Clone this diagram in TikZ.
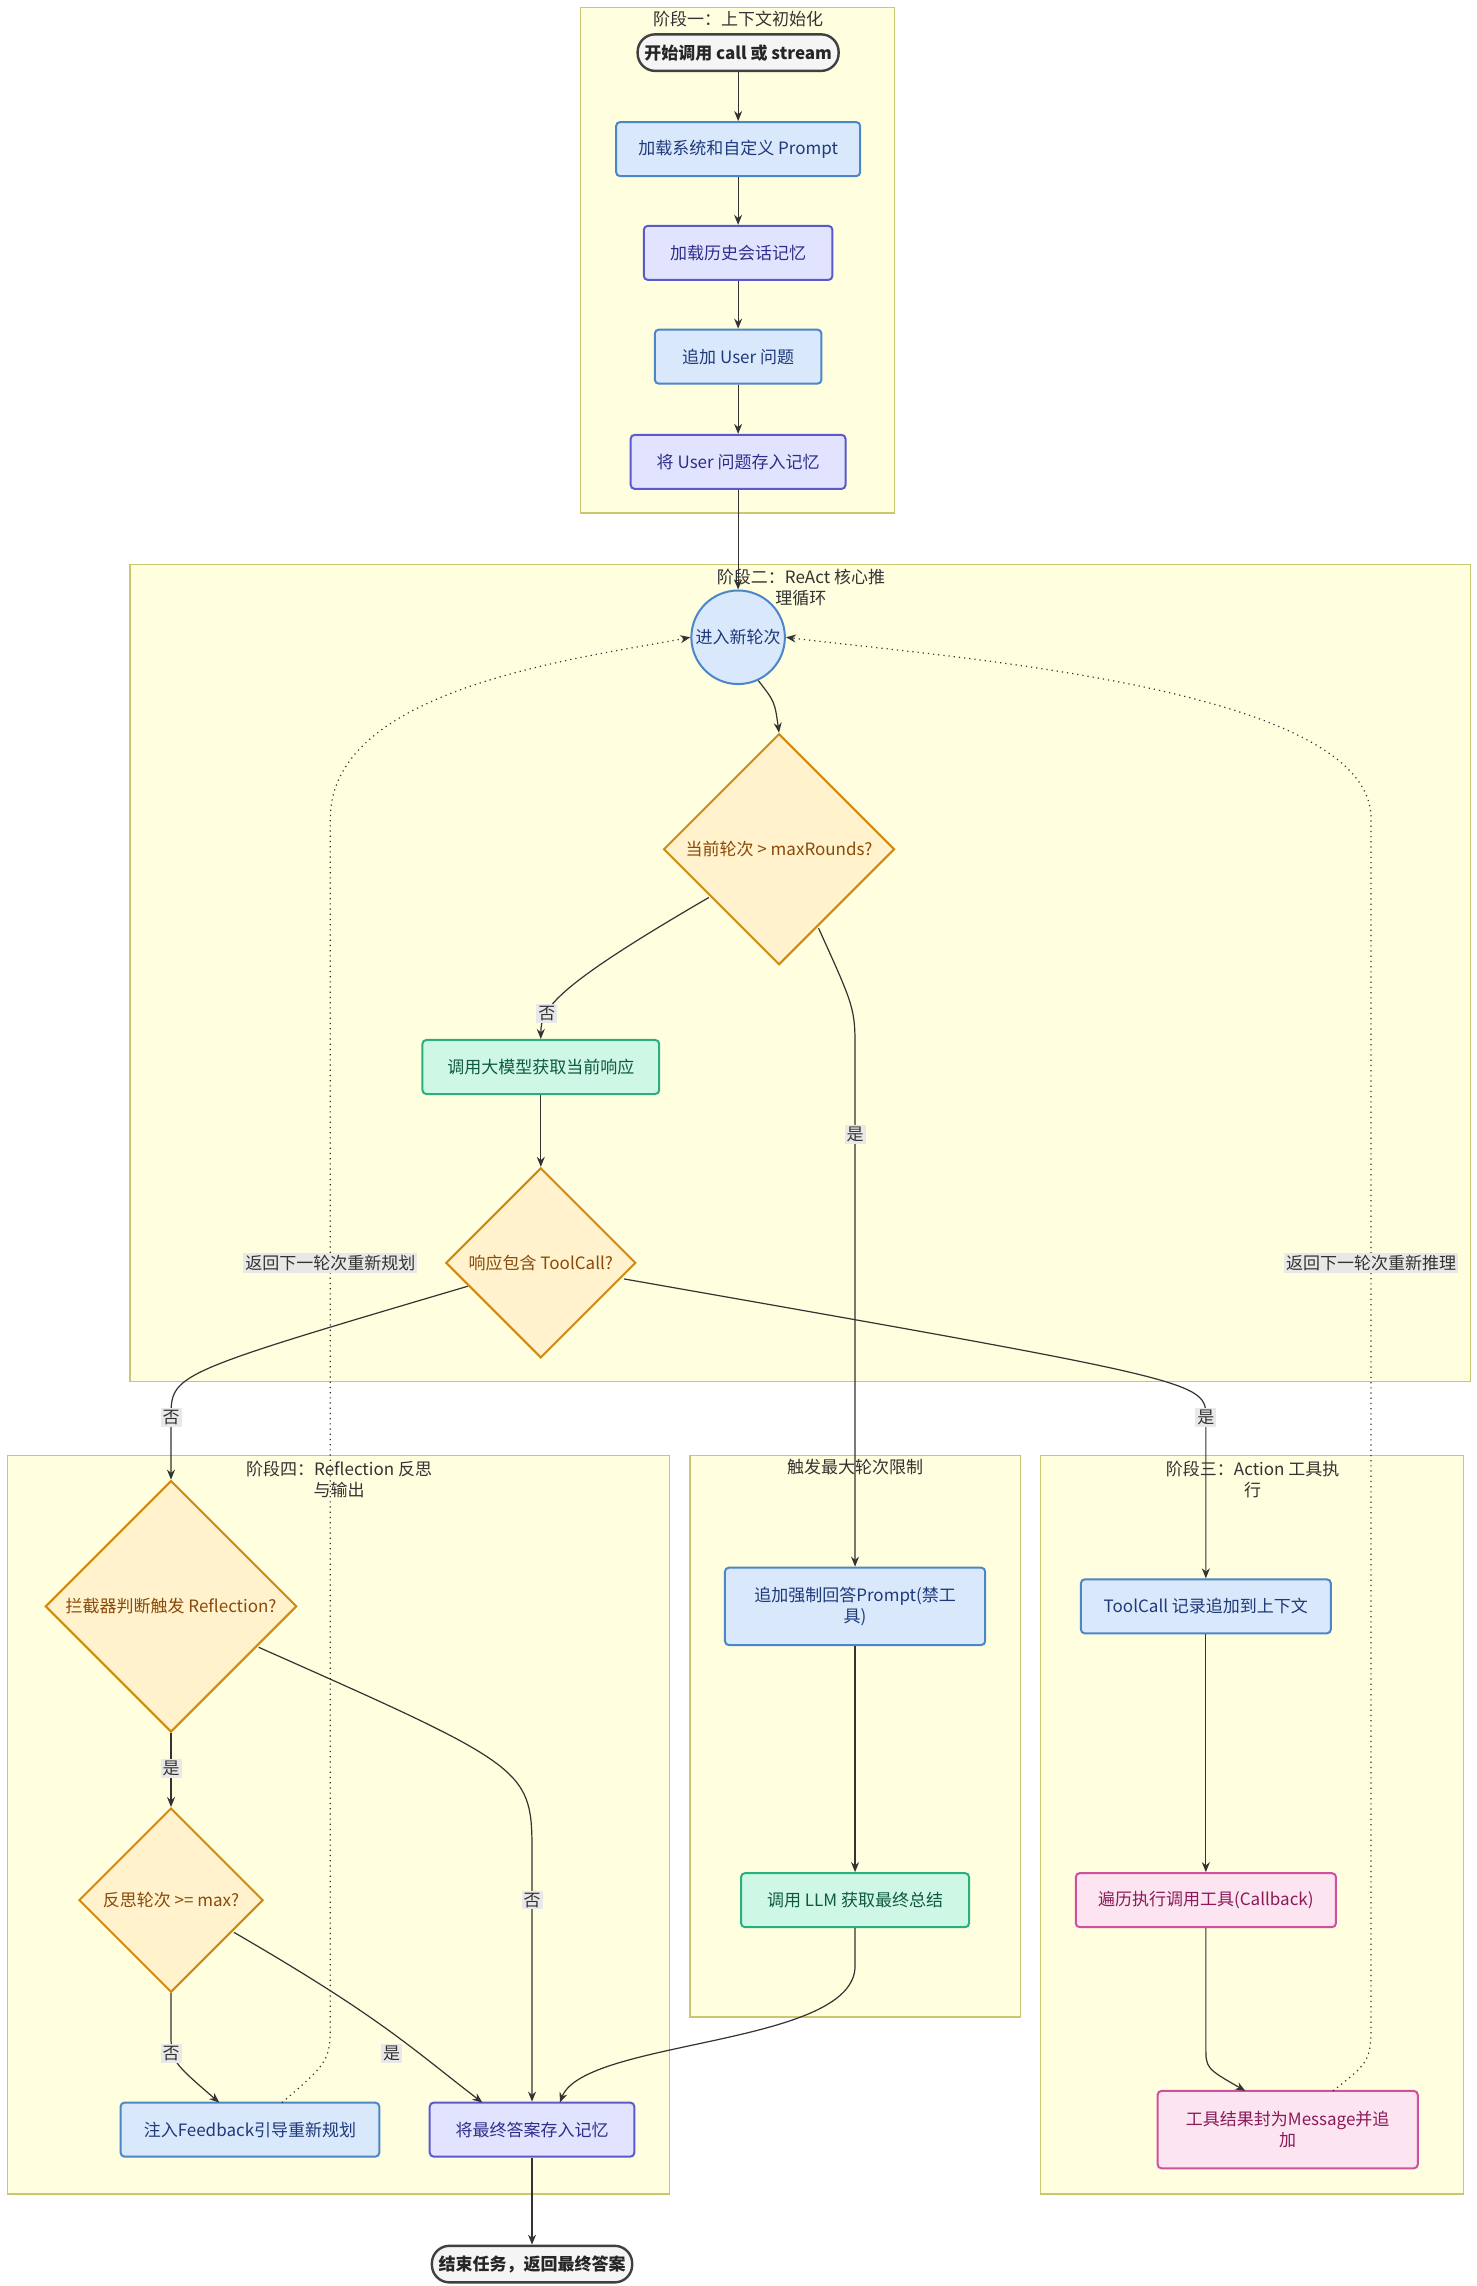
\documentclass[tikz,border=0pt]{standalone}
\usepackage{fontspec}
\setmainfont{Noto Sans CJK SC}
\usetikzlibrary{shapes.geometric,arrows.meta}
\definecolor{stagebg}{HTML}{FFFEDE}
\definecolor{stageln}{HTML}{C8C86E}
\definecolor{bluef}{HTML}{DAE8FC}
\definecolor{bluel}{HTML}{4A86C8}
\definecolor{bluet}{HTML}{1F3A7A}
\definecolor{lavf}{HTML}{E2E4FF}
\definecolor{lavl}{HTML}{5A5ACD}
\definecolor{lavt}{HTML}{2E2E8A}
\definecolor{grnf}{HTML}{CFF7E6}
\definecolor{grnl}{HTML}{2AB080}
\definecolor{grnt}{HTML}{0E5A40}
\definecolor{pinkf}{HTML}{FCE4F0}
\definecolor{pinkl}{HTML}{D050A0}
\definecolor{pinkt}{HTML}{8A1A5A}
\definecolor{orgf}{HTML}{FFF2CC}
\definecolor{orgl}{HTML}{D08A10}
\definecolor{orgt}{HTML}{8A4A0A}
\definecolor{ln}{HTML}{333333}
\def\u{0.7308pt}
\tikzset{
  every node/.style={font=\fontsize{8.5}{10.5}\selectfont},
  stage/.style={draw=stageln,fill=stagebg,line width=0.6pt},
  ttl/.style={text=black!80,align=center},
  box/.style 2 args={rounded corners=2pt,line width=1pt,minimum width={#1*\u},minimum height={#2*\u},align=center,inner sep=1pt},
  bl/.style={box={#1}{37},draw=bluel,fill=bluef,text=bluet},
  lv/.style={box={#1}{37},draw=lavl,fill=lavf,text=lavt},
  gr/.style={box={#1}{37},draw=grnl,fill=grnf,text=grnt},
  pk/.style={box={#1}{37},draw=pinkl,fill=pinkf,text=pinkt},
  dia/.style={diamond,draw=orgl,fill=orgf,text=orgt,line width=1pt,minimum width={#1*\u},minimum height={#1*\u},inner sep=0pt,align=center},
  term/.style={rounded corners={12*\u},draw=black!75,fill=black!4,line width=1.2pt,minimum width={#1*\u},minimum height={25*\u},font=\fontsize{8.5}{10.5}\selectfont\bfseries,text=black!85},
  ar/.style={draw=ln,line width=0.6pt,-{Stealth[length=5pt,width=4pt]}},
  dar/.style={ar,dotted},
  lab/.style={fill=black!9,inner sep=1pt,text=black!80},
}
\begin{document}
\begin{tikzpicture}[x=\u,y=-\u]
\useasboundingbox (0,0) rectangle (1010,1564);
\fill[white] (0,0) rectangle (1010,1564);
% stages
\draw[stage] (397,5) rectangle (612,351);
\node[ttl] at (505,13) {阶段一：上下文初始化};
\draw[stage] (89,386) rectangle (1006,945);
\node[ttl] at (548,402) {阶段二：ReAct 核心推\\理循环};
\draw[stage] (5,996) rectangle (458,1501);
\node[ttl] at (232,1012) {阶段四：Reflection 反思\\与输出};
\draw[stage] (472,996) rectangle (698,1380);
\node[ttl] at (585,1004) {触发最大轮次限制};
\draw[stage] (712,996) rectangle (1001,1501);
\node[ttl] at (857,1012) {阶段三：Action 工具执\\行};
% nodes
\node[term=135] (s) at (505,36) {开始调用 call 或 stream};
\node[bl=167] (a) at (505,102) {加载系统和自定义 Prompt};
\node[lv=129] (b) at (505,173) {加载历史会话记忆};
\node[bl=114] (c) at (505,244) {追加 User 问题};
\node[lv=147] (d) at (505,316) {将 User 问题存入记忆};
\node[circle,draw=bluel,fill=bluef,text=bluet,line width=1pt,minimum size={64*\u},inner sep=0pt] (r) at (505,436) {进入新轮次};
\node[dia=158] (d1) at (533,581) {当前轮次 > maxRounds?};
\node[gr=162] (llm) at (370,730) {调用大模型获取当前响应};
\node[dia=130] (d2) at (370,864) {响应包含 ToolCall?};
\node[dia=172] (d3) at (117,1099) {拦截器判断触发 Reflection?};
\node[dia=126] (d4) at (117,1300) {反思轮次 >= max?};
\node[bl=177] (f) at (171,1457) {注入Feedback引导重新规划};
\node[lv=140] (g) at (364,1457) {将最终答案存入记忆};
\node[term=133] (e) at (364,1549) {结束任务，返回最终答案};
\node[box={178}{53},draw=bluel,fill=bluef,text=bluet] (h) at (585,1099) {追加强制回答Prompt(禁工\\具)};
\node[gr=156] (i) at (585,1300) {调用 LLM 获取最终总结};
\node[bl=171] (j) at (825,1099) {ToolCall 记录追加到上下文};
\node[pk=178] (k) at (825,1300) {遍历执行调用工具(Callback)};
\node[box={178}{53},draw=pinkl,fill=pinkf,text=pinkt] (l) at (881,1457) {工具结果封为Message并追\\加};
% edges
\draw[ar] (s) -- (a);
\draw[ar] (a) -- (b);
\draw[ar] (b) -- (c);
\draw[ar] (c) -- (d);
\draw[ar] (d) -- (r);
\draw[ar] (r.-65) .. controls (530,480) .. (d1.north);
\draw[ar] (485,614) .. controls (380,675) and (370,690) .. (llm.north) node[lab,pos=0.72] {否};
\draw[ar] (560,635) .. controls (585,690) .. (585,720) -- (h.north) node[lab,pos=0.16] {是};
\draw[ar] (llm) -- (d2.north);
\draw[ar] (320,880) .. controls (117,940) .. (117,970) node[lab] {否} -- (d3.north);
\draw[ar] (427,875) .. controls (825,945) .. (825,970) node[lab] {是} -- (j.north);
\draw[ar] (d3.south) -- (117,1210) node[lab] {是} -- (d4.north);
\draw[ar] (177,1127) .. controls (364,1210) .. (364,1270) -- (364,1300) node[lab] {否} -- (g.north);
\draw[ar] (d4.south) -- (117,1390) .. controls (117,1410) .. (150,1438.5);
\node[lab] at (117,1405) {否};
\draw[ar] (160,1322) .. controls (260,1380) and (280,1400) .. (330,1438.5);
\node[lab] at (268,1405) {是};
\draw[ar] (i.south) -- (585,1345) .. controls (585,1400) and (400,1395) .. (383,1438.5);
\draw[ar] (g) -- (e);
\draw[ar] (h) -- (i);
\draw[ar] (j) -- (k);
\draw[ar] (k.south) -- (825,1400) .. controls (825,1415) .. (852,1430.5);
\draw[dar] (193,1438.5) .. controls (226,1410) .. (226,1380) -- (226,560) .. controls (226,470) and (400,450) .. (r.west);
\node[lab] at (226,864) {返回下一轮次重新规划};
\draw[dar] (912,1430.5) .. controls (938,1410) .. (938,1380) -- (938,560) .. controls (938,470) and (650,450) .. (r.east);
\node[lab] at (938,864) {返回下一轮次重新推理};
\end{tikzpicture}
\end{document}
